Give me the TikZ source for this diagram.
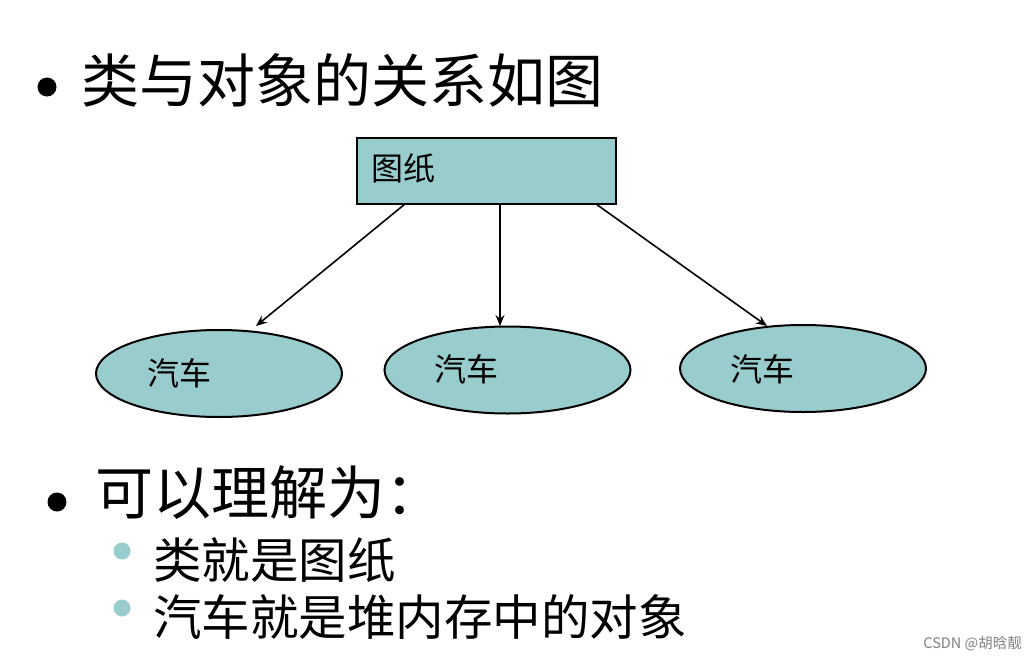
\documentclass[tikz,border=0pt]{standalone}
\usepackage{fontspec}
\setmainfont{Liberation Sans}
\newfontfamily\cjk{Noto Sans CJK SC}
\usetikzlibrary{shapes.geometric,arrows.meta}
\definecolor{teal1}{HTML}{99CCCC}
\tikzset{
  box/.style={draw=black, line width=2pt, fill=teal1, minimum width=259pt, minimum height=66pt, inner sep=0pt},
  oval/.style={ellipse, draw=black, line width=2pt, fill=teal1, minimum width=246pt, minimum height=87pt, inner sep=0pt},
  conn/.style={line width=1.6pt, -{Stealth[length=11pt,width=9pt]}},
  lbl/.style={font=\cjk\fontsize{32}{32}\selectfont, inner sep=0pt, anchor=west},
  big/.style={font=\cjk\fontsize{58}{58}\selectfont, inner sep=0pt, anchor=west},
  mid/.style={font=\cjk\fontsize{48.5}{48.5}\selectfont, inner sep=0pt, anchor=west},
}
\begin{document}
\begin{tikzpicture}[x=1pt,y=-1pt]
\useasboundingbox (0,0) rectangle (1036,661);
% title
\fill[black] (47,87) circle (9.5);
\node[big] (t1) at (81,80) {类与对象的关系如图};
% diagram
\node[box] (paper) at (486.5,171) {};
\node[lbl] (papert) at (371,168) {图纸};
\node[oval] (c1) at (219,373.5) {};
\node[oval] (c2) at (507.5,370) {};
\node[oval] (c3) at (803,368.5) {};
\node[lbl] (l1) at (147,373) {汽车};
\node[lbl] (l2) at (434,369) {汽车};
\node[lbl] (l3) at (730,369) {汽车};
\coordinate (s1) at (405,204);
\coordinate (s2) at (500,204);
\coordinate (s3) at (596,204);
\coordinate (e1) at (256,326);
\coordinate (e2) at (500,326);
\coordinate (e3) at (767,326);
\draw[conn] (s1) -- (e1);
\draw[conn] (s2) -- (e2);
\draw[conn] (s3) -- (e3);
% second bullet
\fill[black] (57,502) circle (9.5);
\node[big] (t2) at (95,493) {可以理解为：};
\fill[teal1] (122,551) circle (8.5);
\node[mid] (t3) at (153,560) {类就是图纸};
\fill[teal1] (122,608) circle (8.5);
\node[mid] (t4) at (153,617) {汽车就是堆内存中的对象};
% watermark
\node[font=\cjk\fontsize{14.5}{14.5}\selectfont, text=gray, anchor=east, inner sep=0pt] (wm) at (1022,644) {CSDN @胡晗靓};
\end{tikzpicture}
\end{document}
